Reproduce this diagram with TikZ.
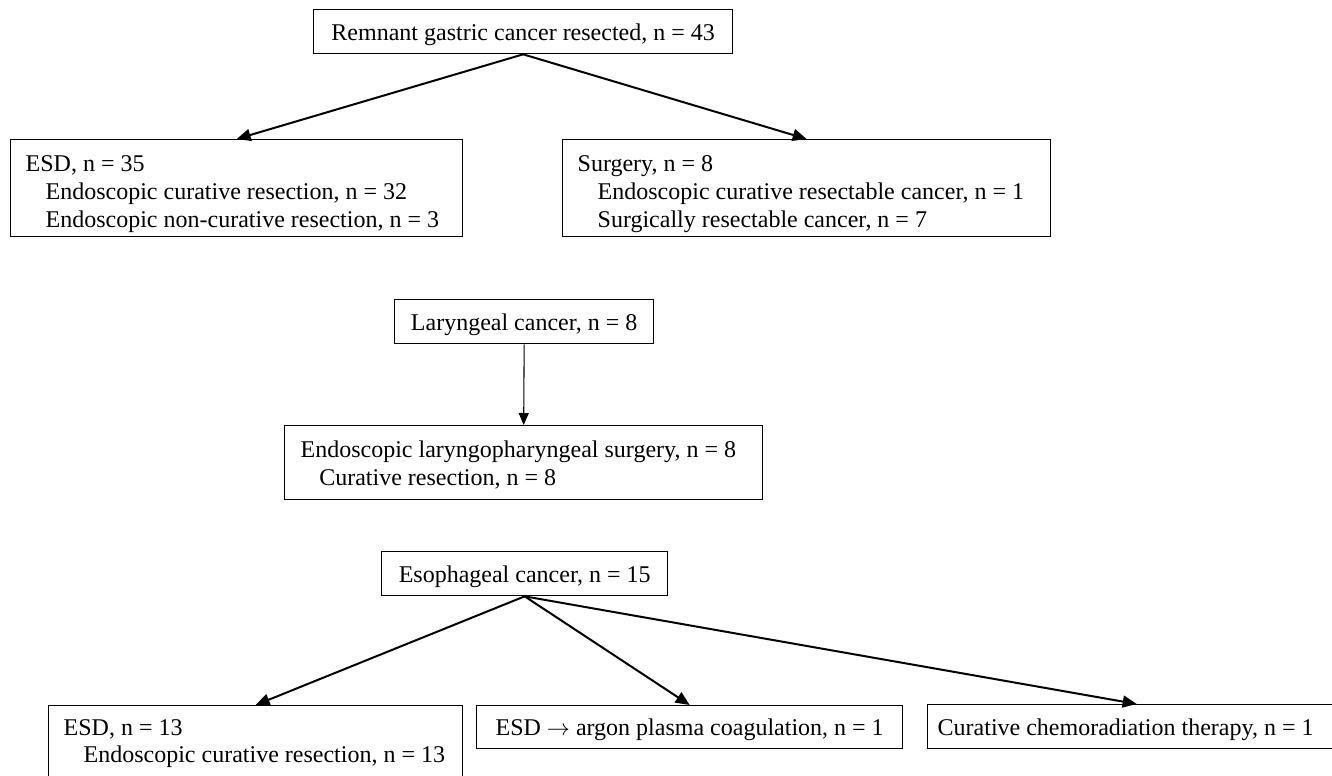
\documentclass[tikz,border=0pt]{standalone}
\usepackage{fontspec}
\setmainfont{Liberation Serif}
\usetikzlibrary{arrows.meta}
\tikzset{
  box/.style={draw=black, line width=1pt, anchor=north west, inner ysep=0pt, font=\fontsize{18}{21}\selectfont},
  cbox/.style={box, inner xsep=0pt, text height=23.25pt, text depth=9.75pt},
  lbox/.style={box, inner xsep=11.25pt},
  arr/.style={line width=1.5pt, -{Triangle[length=10.5pt,width=9pt]}},
  varr/.style={line width=0.8pt, -{Triangle[length=9pt,width=7.5pt]}},
}
\newcommand{\ind}{\hspace*{15pt}}
\newcommand{\boxlines}[2]{\makebox[#1][l]{\begin{tabular}[t]{@{}l@{}}#2\end{tabular}}}
\begin{document}
\begin{tikzpicture}[x=0.75pt,y=-0.75pt]
\useasboundingbox (0,0) rectangle (1332,775);
\clip (0,0) rectangle (1332,775);
% top tree
\node[cbox, minimum width=314.25pt] (rgc) at (313,9) {Remnant gastric cancer resected, n = 43};
\node[lbox, text height=24pt, text depth=48.75pt] (esd1) at (10,139)
  {\boxlines{316.5pt}{ESD, n = 35\\ \ind Endoscopic curative resection, n = 32\\ \ind Endoscopic non-curative resection, n = 3}};
\node[lbox, text height=24pt, text depth=48.75pt] (surg) at (562,139)
  {\boxlines{343.5pt}{Surgery, n = 8\\ \ind Endoscopic curative resectable cancer, n = 1\\ \ind Surgically resectable cancer, n = 7}};
\draw[arr] (rgc.south) -- (esd1.north);
\draw[arr] (rgc.south) -- (surg.north);
% middle
\node[cbox, minimum width=194.25pt] (lar) at (394,299) {Laryngeal cancer, n = 8};
\node[lbox, inner xsep=12pt, text height=24pt, text depth=31.5pt] (elps) at (284,425)
  {\boxlines{334.5pt}{Endoscopic laryngopharyngeal surgery, n = 8\\ \hspace*{14pt}Curative resection, n = 8}};
\draw[varr] (lar.south) -- (elps.north);
% bottom
\node[cbox, minimum width=214.5pt] (eso) at (381,551) {Esophageal cancer, n = 15};
\node[lbox, text height=22.5pt, text depth=45pt] (esd2) at (48,705)
  {\boxlines{288pt}{ESD, n = 13\\[-0.75pt] \ind Endoscopic curative resection, n = 13}};
\node[cbox, minimum width=319.5pt, text height=22.5pt, text depth=9.75pt] (apc) at (476,705) {ESD $\rightarrow$ argon plasma coagulation, n = 1};
\node[lbox, inner xsep=7.5pt, text height=23.25pt, text depth=9.75pt] (crt) at (927,704)
  {\boxlines{298.5pt}{Curative chemoradiation therapy, n = 1}};
\draw[arr] (eso.south) -- (esd2.north);
\draw[arr] (eso.south) -- (apc.north);
\draw[arr] (eso.south) -- (crt.north);
\end{tikzpicture}
\end{document}
